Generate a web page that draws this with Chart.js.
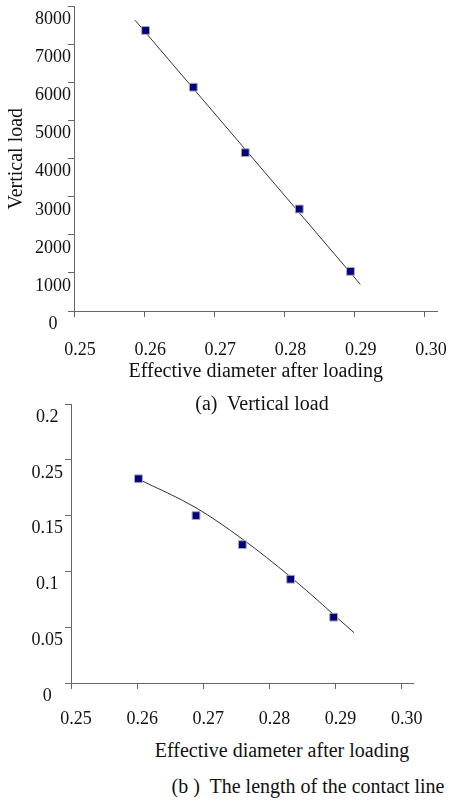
<!DOCTYPE html>
<html>
<head>
<meta charset="utf-8">
<script src="https://cdn.jsdelivr.net/npm/chart.js@4.4.1/dist/chart.umd.min.js"></script>
<style>
body { margin: 0; background: #fff; width: 463px; height: 800px; position: relative; overflow: hidden;
       font-family: 'Liberation Serif', 'Times New Roman', serif; color: #111; }
canvas { position: absolute; left: 0; }
.txt { position: absolute; width: 400px; text-align: center; font-size: 20px; line-height: 24px; white-space: nowrap; }
</style>
</head>
<body>
<canvas id="chart-a" width="463" height="392" style="top:0"></canvas>
<canvas id="chart-b" width="463" height="335" style="top:395px"></canvas>
<div class="txt" style="left:62px; top:391px">(a)&nbsp; Vertical load</div>
<div class="txt" style="left:82px; top:738px">Effective diameter after loading</div>
<div class="txt" style="left:108px; top:774px">(b )&nbsp; The length of the contact line</div>
<script>
// (a) vertical load against effective diameter
const diamA = [0.2602, 0.2670, 0.2744, 0.2821, 0.2894];
const loadA = [7370, 5880, 4160, 2680, 1040];
const fitDiamA = [0.2587, 0.2908];
const fitLoadA = [7640, 700];
const yTicksA = ['0', '1000', '2000', '3000', '4000', '5000', '6000', '7000', '8000'];

// (b) contact line length against effective diameter
const diamB = [0.2602, 0.2689, 0.2759, 0.2832, 0.2897];
const lengthB = [0.183, 0.150, 0.124, 0.093, 0.059];
const fitDiamB = [0.2601, 0.2689, 0.2759, 0.2832, 0.2928];
const fitLengthB = [0.183, 0.157, 0.129, 0.095, 0.045];
const yTicksB = ['0', '0.05', '0.1', '0.15', '0.25', '0.2'];

const xTicks = ['0.25', '0.26', '0.27', '0.28', '0.29', '0.30'];

Chart.defaults.font.family = "'Liberation Serif', 'Times New Roman', serif";
Chart.defaults.font.size = 18;
Chart.defaults.color = '#111';

function pts(xs, ys) {
    return xs.map(function (x, i) { return { x: x, y: ys[i] }; });
}

var axisGrid = { drawOnChartArea: false, drawTicks: true, tickLength: 6, color: '#666', lineWidth: 1 };
var axisBorder = { display: true, color: '#666', width: 1 };

function markers(xs, ys) {
    return {
        data: pts(xs, ys),
        showLine: false,
        pointStyle: 'rect',
        pointRadius: 5.5,
        pointBackgroundColor: '#000080',
        pointBorderColor: '#aaa',
        pointBorderWidth: 1,
        order: 0
    };
}

function fitLine(xs, ys) {
    return {
        data: pts(xs, ys),
        showLine: true,
        borderColor: '#333',
        borderWidth: 1,
        pointRadius: 0,
        tension: 0.4,
        cubicInterpolationMode: 'monotone',
        order: 1
    };
}

// chart (a)
new Chart(document.getElementById('chart-a').getContext('2d'), {
    type: 'scatter',
    data: {
        datasets: [markers(diamA, loadA), fitLine(fitDiamA, fitLoadA)]
    },
    options: {
        responsive: false,
        animation: false,
        layout: { padding: { top: 2, right: 10, bottom: 0, left: 0 } },
        plugins: { legend: { display: false }, tooltip: { enabled: false } },
        scales: {
            x: {
                type: 'linear',
                min: 0.25,
                max: 0.3018,
                grid: axisGrid,
                border: axisBorder,
                ticks: {
                    stepSize: 0.01,
                    includeBounds: false,
                    padding: 22,
                    labelOffset: 6,
                    maxRotation: 0,
                    callback: function (v, i) { return xTicks[i]; }
                },
                title: {
                    display: true,
                    text: 'Effective diameter after loading',
                    font: { size: 20 },
                    padding: { top: 0, bottom: 8 }
                },
                afterFit: function (s) { s.height = 81; }
            },
            y: {
                type: 'linear',
                min: 0,
                max: 8000,
                grid: axisGrid,
                border: axisBorder,
                ticks: {
                    stepSize: 1000,
                    padding: -3,
                    crossAlign: 'center',
                    labelOffset: 13,
                    callback: function (v, i) { return yTicksA[i]; }
                },
                title: {
                    display: true,
                    text: 'Vertical load',
                    font: { size: 20 },
                    padding: { top: 5, bottom: 0 }
                },
                afterFit: function (s) { s.width = 74; s.paddingTop = 0; s.paddingBottom = 0; }
            }
        }
    }
});

// chart (b)
new Chart(document.getElementById('chart-b').getContext('2d'), {
    type: 'scatter',
    data: {
        datasets: [markers(diamB, lengthB), fitLine(fitDiamB, fitLengthB)]
    },
    options: {
        responsive: false,
        animation: false,
        layout: { padding: { top: 9, right: 50, bottom: 0, left: 0 } },
        plugins: { legend: { display: false }, tooltip: { enabled: false } },
        scales: {
            x: {
                type: 'linear',
                min: 0.25,
                max: 0.3017,
                grid: axisGrid,
                border: axisBorder,
                ticks: {
                    stepSize: 0.01,
                    includeBounds: false,
                    padding: 19,
                    labelOffset: 5,
                    maxRotation: 0,
                    callback: function (v, i) { return xTicks[i]; }
                },
                afterFit: function (s) { s.height = 47; }
            },
            y: {
                type: 'linear',
                min: 0,
                max: 0.25,
                grid: axisGrid,
                border: axisBorder,
                ticks: {
                    stepSize: 0.05,
                    padding: 2,
                    crossAlign: 'center',
                    labelOffset: 13,
                    callback: function (v, i) { return yTicksB[i]; }
                },
                afterFit: function (s) { s.width = 71; s.paddingTop = 0; s.paddingBottom = 0; }
            }
        }
    }
});
</script>
</body>
</html>
